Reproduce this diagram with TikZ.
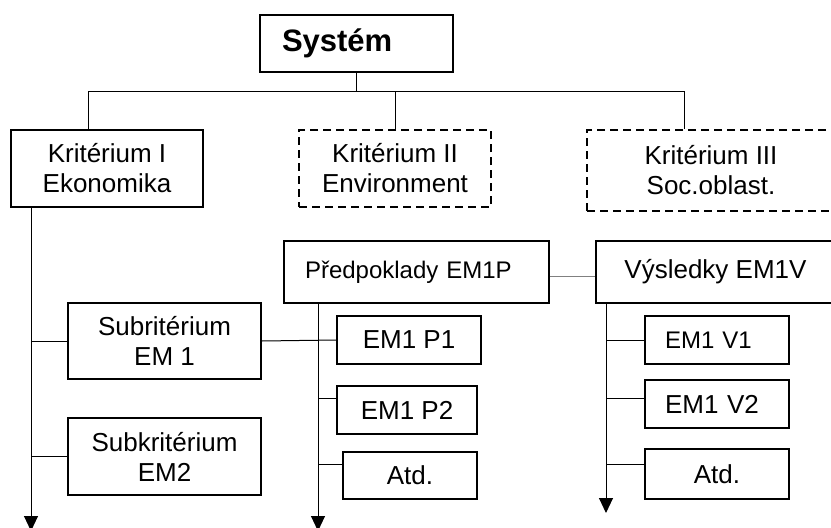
\documentclass[tikz,border=0pt]{standalone}
\usepackage{fontspec}
\setmainfont{Liberation Sans}
\usetikzlibrary{arrows.meta}
\tikzstyle{box} = [draw,rectangle,line width=1.5pt,inner sep=0pt,align=center,font=\fontsize{26}{30}\selectfont]
\tikzstyle{dbox} = [box,dash pattern=on 8pt off 5pt]
\tikzstyle{line} = [line width=1pt]
\tikzstyle{arrow} = [line,-{Triangle[width=14pt,length=15pt]}]

\begin{document}
\begin{tikzpicture}[x=1pt,y=-1pt]
	\useasboundingbox (0,0) rectangle (831,528);
	
	\node[box,font=\fontsize{31}{36}\selectfont\bfseries,text width=149pt,inner xsep=22pt,align=left,minimum height=57pt] (sys) at (356.5,43.5) {Systém};
	\node[box,minimum width=192pt,minimum height=77pt] (k1) at (107,168.5) {Kritérium I\\Ekonomika};
	\node[dbox,minimum width=192pt,minimum height=77pt] (k2) at (395,168.5) {Kritérium II\\Environment};
	\node[dbox,minimum width=248pt,minimum height=81pt] (k3) at (711,170.5) {Kritérium III\\Soc.oblast.};
	
	\node[box,minimum width=193pt,minimum height=76pt] (s1) at (164.5,341) {Subritérium\\EM 1};
	\node[box,minimum width=193pt,minimum height=77pt] (s2) at (164.5,456.5) {Subkritérium\\EM2};
	
	\node[box,font=\fontsize{24}{28}\selectfont,text width=223pt,inner xsep=21pt,align=left,minimum height=62pt] (pp) at (416.5,272) {Předpoklady EM1P};
	\node[box,minimum width=144pt,minimum height=48pt] (p1) at (409,340) {EM1 P1};
	\node[box,minimum width=140pt,minimum height=48pt] (p2) at (407,410) {EM1 P2};
	\node[box,minimum width=134pt,minimum height=47pt] (pa) at (410,475.5) {Atd.};
	
	\node[box,minimum width=239pt,minimum height=62pt] (vv) at (715.5,272) {Výsledky EM1V};
	\node[box,font=\fontsize{24}{28}\selectfont,text width=104pt,inner xsep=20pt,align=left,minimum height=48pt] (v1) at (717,340) {EM1 V1};
	\node[box,text width=104pt,inner xsep=20pt,align=left,minimum height=48pt] (v2) at (717,404) {EM1 V2};
	\node[box,minimum width=144pt,minimum height=50pt] (va) at (717,474) {Atd.};
	
	\coordinate (b1) at (88,91);
	\coordinate (b3) at (684,91);
	\coordinate (e1) at (31,531);
	\coordinate (e2) at (318,531);
	\coordinate (e3) at (606,513);
	\coordinate (j2) at (318,398);
	\coordinate (j3) at (318,464);
	\coordinate (j5) at (606,398);
	\coordinate (j6) at (606,464);
	
	\draw[line] (sys.south) -- (sys.south |- b1);
	\draw[line] (b1 |- k1.north) -- (b1) -- (b3) -- (b3 |- k3.north);
	\draw[line] (k2.north) -- (k2.north |- b1);
	
	\draw[arrow] (e1 |- k1.south) -- (e1);
	\draw[line] (e1 |- s1.west) -- (s1.west);
	\draw[line] (e1 |- s2.west) -- (s2.west);
	\draw[line] (s1.east) -- (p1.west);
	
	\draw[gray,line width=0.8pt] ([yshift=-4pt]pp.east) -- ([yshift=-4pt]vv.west);
	
	\draw[arrow] (e2 |- pp.south) -- (e2);
	\draw[line] (j2) -- (j2 -| p2.west);
	\draw[line] (j3) -- (j3 -| pa.west);
	
	\draw[arrow] (e3 |- vv.south) -- (e3);
	\draw[line] (e3 |- v1.west) -- (v1.west);
	\draw[line] (j5) -- (j5 -| v2.west);
	\draw[line] (j6) -- (j6 -| va.west);
\end{tikzpicture}
\end{document}
